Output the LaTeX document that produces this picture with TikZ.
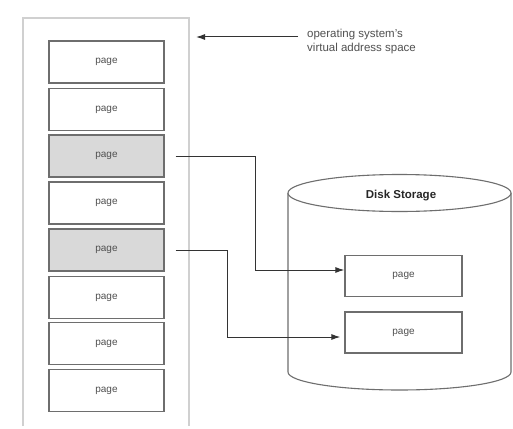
\documentclass[tikz,border=0pt]{standalone}
\usepackage{fontspec}
\setmainfont{Liberation Sans}
\usetikzlibrary{arrows.meta}
\definecolor{boxline}{HTML}{6E6E6E}
\definecolor{shade}{HTML}{D9D9D9}
\definecolor{frameline}{HTML}{D0D0D0}
\definecolor{txt}{HTML}{505050}
\tikzset{
  pagebox/.style={draw=boxline, line width=1.3pt, minimum width=115pt, minimum height=42pt, inner sep=0pt, font=\fontsize{10}{11}\selectfont, text=txt},
  shaded/.style={pagebox, fill=shade},
  conn/.style={draw=black!80, line width=1pt, -{Latex[length=9pt,width=6pt]}},
}
\begin{document}
\begin{tikzpicture}[x=1pt,y=-1pt]
\useasboundingbox (0,0) rectangle (513,428);
\fill[white] (0,0) rectangle (513,428);
% outer virtual address space frame
\draw[frameline, line width=1.5pt] (23,426) -- (23,18) -- (189,18) -- (189,426);
% pages
\node[pagebox] (p1) at (106.5,62) {page};
\node[pagebox] (p2) at (106.5,109.5) {page};
\node[shaded]  (p3) at (106.5,156) {page};
\node[pagebox] (p4) at (106.5,203) {page};
\node[shaded]  (p5) at (106.5,250) {page};
\node[pagebox] (p6) at (106.5,297.5) {page};
\node[pagebox] (p7) at (106.5,343.5) {page};
\node[pagebox] (p8) at (106.5,390.5) {page};
% label
\node[anchor=north west, align=left, text=txt, font=\fontsize{11.5}{14}\selectfont, inner sep=0pt] (lbl) at (307,29) {operating system's\\virtual address space};
\coordinate (la) at (298,37);
\coordinate (lt) at (196,37);
\draw[conn] (la) -- (lt);
% disk cylinder
\draw[boxline, line width=1.1pt, fill=white] (288,193) -- (288,372) arc[start angle=180, end angle=0, x radius=111.5, y radius=18] -- (511,193);
\draw[boxline, line width=1.1pt, fill=white] (399.5,193) ellipse[x radius=111.5, y radius=18.5];
\node[font=\bfseries\fontsize{11.5}{13}\selectfont, text=black!85] (disk) at (401,196) {Disk Storage};
% disk pages
\node[pagebox, minimum width=117pt, minimum height=41pt] (d1) at (403.5,276) {page};
\node[pagebox, minimum width=117pt, minimum height=41pt] (d2) at (403.5,332.5) {page};
% connectors
\coordinate (s3) at ([xshift=11pt]p3.east);
\coordinate (s5) at ([xshift=11pt]p5.east);
\coordinate (b3) at (255,270);
\coordinate (b5) at (227,337);
\coordinate (t1) at (d1.west |- b3);
\coordinate (t2) at ([xshift=-4pt]d2.west |- b5);
\draw[conn] (s3) -| (b3) -- (t1);
\draw[conn] (s5) -| (b5) -- (t2);
\end{tikzpicture}
\end{document}
